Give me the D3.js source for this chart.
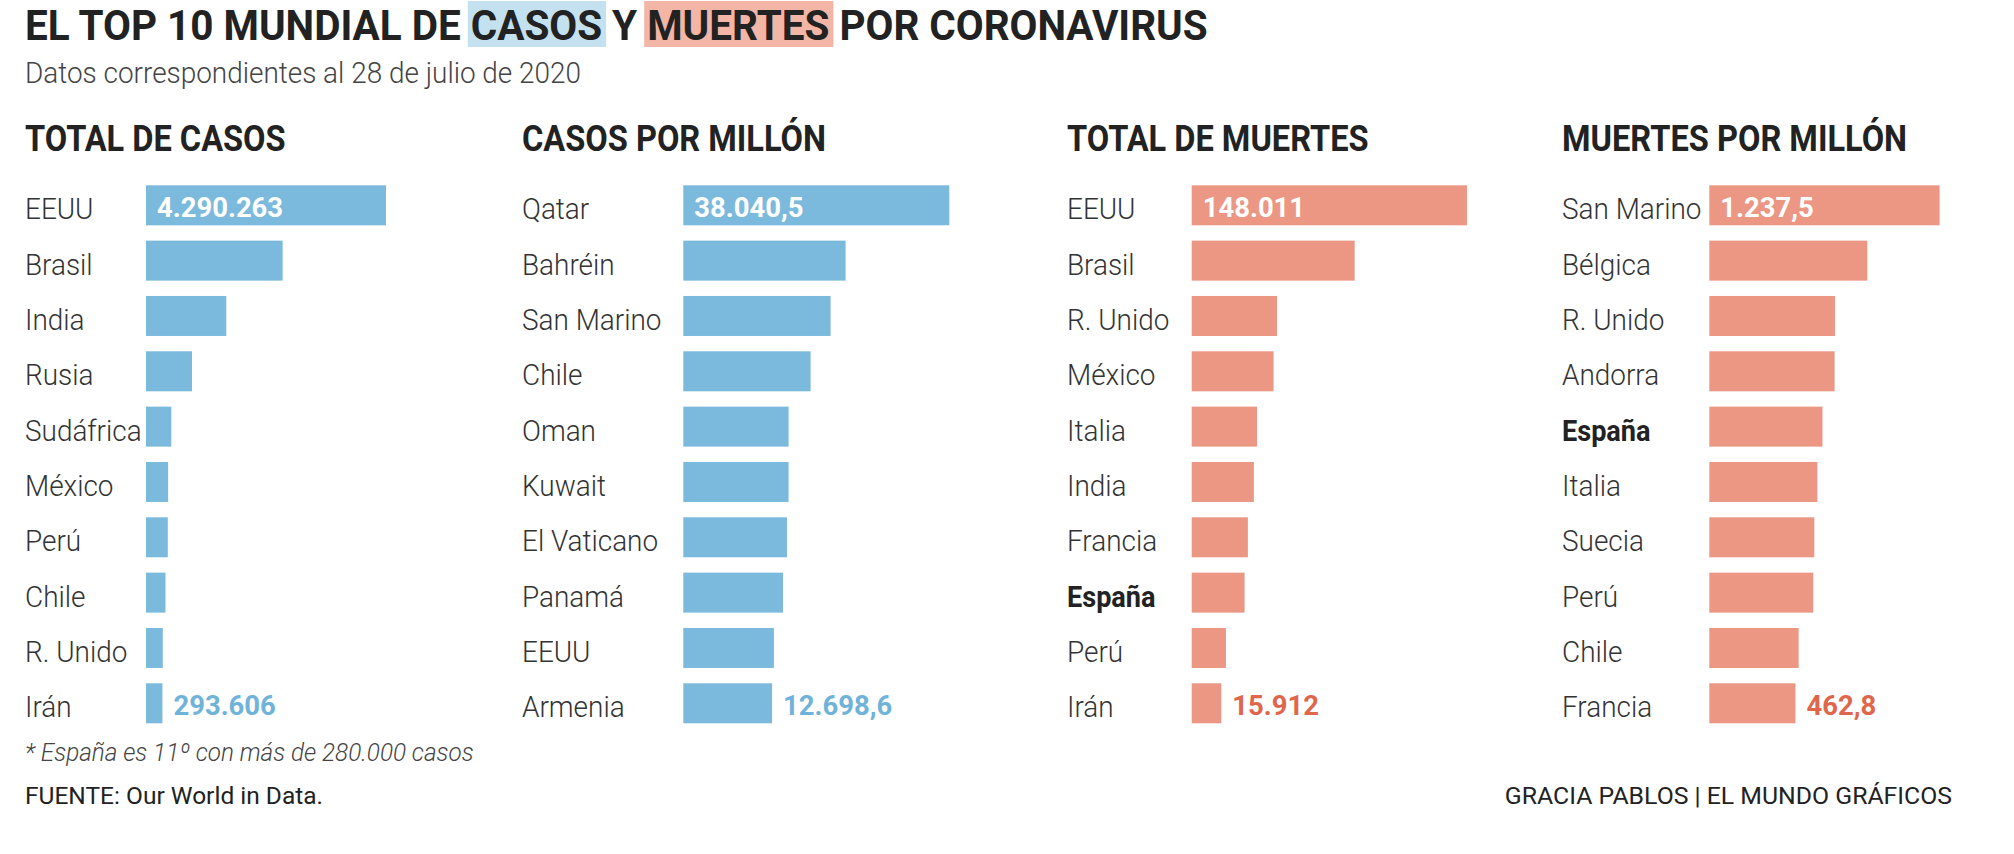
<!DOCTYPE html>
<html><head><meta charset="utf-8">
<script src="https://cdn.jsdelivr.net/npm/d3@7"></script>
<style>body{margin:0;background:#fff} svg{display:block}</style>
</head><body>
<svg id="c" width="2014" height="854"></svg>
<script>
// ---------- DATA ----------
const casosPaises   = ["EEUU","Brasil","India","Rusia","Sudáfrica","México","Perú","Chile","R. Unido","Irán"];
const casosValores  = [4290263, 2442375, 1435453, 822060, 452529, 395489, 389717, 347923, 300111, 293606];

const casosMillonPaises  = ["Qatar","Bahréin","San Marino","Chile","Oman","Kuwait","El Vaticano","Panamá","EEUU","Armenia"];
const casosMillonValores = [38040.5, 23210.0, 21064.0, 18204.0, 15060.0, 15058.0, 14829.0, 14257.0, 12962.0, 12698.6];

const muertesPaises  = ["EEUU","Brasil","R. Unido","México","Italia","India","Francia","España","Perú","Irán"];
const muertesValores = [148011, 87618, 45878, 44022, 35112, 33425, 30212, 28434, 18418, 15912];

const muertesMillonPaises  = ["San Marino","Bélgica","R. Unido","Andorra","España","Italia","Suecia","Perú","Chile","Francia"];
const muertesMillonValores = [1237.5, 849.0, 675.3, 673.4, 608.1, 580.8, 564.3, 558.6, 480.0, 462.8];

const destacado = "España";

const titulo    = "EL TOP 10 MUNDIAL DE CASOS Y MUERTES POR CORONAVIRUS";
const subtitulo = "Datos correspondientes al 28 de julio de 2020";
const nota      = "* España es 11º con más de 280.000 casos";
const fuente    = "FUENTE: Our World in Data.";
const credito   = "GRACIA PABLOS | EL MUNDO GRÁFICOS";

// ---------- STYLE / LAYOUT ----------
const BLUE = "#7bbadc", BLUE_TXT = "#6fb3d9", BLUE_HL = "#c4e1ef";
const RED = "#eb9784", RED_TXT = "#e0664b", RED_HL = "#f2b5a6";
const INK = "#222222", LABEL = "#333333";
const FONT = "Roboto, 'Open Sans', sans-serif";

const es = d3.formatLocale({decimal: ",", thousands: ".", grouping: [3], currency: ["", ""]});
const fInt = es.format(",d"), fDec = es.format(",.1f");

const panels = [
  {title: "TOTAL DE CASOS",   names: casosPaises,          values: casosValores,          labelX: 25,   barX: 146,   maxW: 240,   color: BLUE, txt: BLUE_TXT, fmt: fInt},
  {title: "CASOS POR MILLÓN", names: casosMillonPaises,    values: casosMillonValores,    labelX: 522,  barX: 683.3, maxW: 266,   color: BLUE, txt: BLUE_TXT, fmt: fDec},
  {title: "TOTAL DE MUERTES", names: muertesPaises,        values: muertesValores,        labelX: 1067, barX: 1191.7,maxW: 275.3, color: RED,  txt: RED_TXT,  fmt: fInt},
  {title: "MUERTES POR MILLÓN",names: muertesMillonPaises, values: muertesMillonValores,  labelX: 1562, barX: 1709.3,maxW: 230.3, color: RED,  txt: RED_TXT,  fmt: fDec}
];

const svg = d3.select("#c");

// title (measure to derive condensed factor)
const titleG = svg.append("g");
const titleT = titleG.append("text")
  .attr("font-family", FONT).attr("font-weight", 700).attr("font-size", 42)
  .attr("fill", INK).text(titulo);
const rawW = titleT.node().getComputedTextLength();
const CF = 1183 / rawW;   // condensed factor
titleT.attr("transform", `translate(25,40) scale(${CF},1)`);

// highlight boxes behind CASOS and MUERTES
function hlBox(word, color) {
  const idx = titulo.indexOf(word);
  const n = titleT.node();
  const x0 = 25 + n.getSubStringLength(0, idx) * CF;
  const w = n.getSubStringLength(idx, word.length) * CF;
  titleG.insert("rect", "text")
    .attr("x", x0 - 3).attr("y", 1).attr("width", w + 7).attr("height", 46)
    .attr("fill", color);
}
hlBox("CASOS", BLUE_HL);
hlBox("MUERTES", RED_HL);

function ctext(sel, x, y, str, size, weight, fill, extra, k) {
  const t = sel.append("text")
    .attr("transform", `translate(${x},${y}) scale(${CF * (k || 1)},1)`)
    .attr("font-family", FONT).attr("font-size", size).attr("font-weight", weight)
    .attr("fill", fill).text(str);
  if (extra) extra(t);
  return t;
}

ctext(svg, 25, 82.5, subtitulo, 29, 300, "#444");

// ---------- PANELS ----------
panels.forEach(p => {
  const g = svg.append("g");
  const y = d3.scaleBand().domain(p.names).range([185.3, 723.3]).paddingInner(0.277).paddingOuter(0);
  const x = d3.scaleLinear().domain([0, d3.max(p.values)]).range([0, p.maxW]);
  const rows = p.names.map((n, i) => ({name: n, value: p.values[i], i}));

  ctext(g, p.labelX, 151, p.title, 36, 700, INK, null, 0.94);

  g.selectAll("rect.bar").data(rows).join("rect")
    .attr("class", "bar")
    .attr("x", p.barX).attr("y", d => y(d.name))
    .attr("width", d => x(d.value)).attr("height", y.bandwidth())
    .attr("fill", p.color);

  rows.forEach(d => {
    const bold = d.name === destacado;
    ctext(g, p.labelX, y(d.name) + 34, d.name, 29, bold ? 700 : 300, bold ? INK : LABEL, null, bold ? 0.97 : 1);
  });

  const first = rows[0], last = rows[rows.length - 1];
  ctext(g, p.barX + 11, y(first.name) + 32, p.fmt(first.value), 28.5, 700, "#ffffff");
  ctext(g, p.barX + x(last.value) + 11, y(last.name) + 32, p.fmt(last.value), 28.5, 700, p.txt);
});

// ---------- NOTES ----------
ctext(svg, 25, 761, nota, 25.2, 300, "#444", t => t.attr("font-style", "italic"));
svg.append("text").attr("x", 25).attr("y", 804)
  .attr("font-family", FONT).attr("font-size", 24.5).attr("font-weight", 400)
  .attr("fill", INK).text(fuente);
svg.append("text").attr("x", 1952).attr("y", 803.5).attr("text-anchor", "end")
  .attr("font-family", FONT).attr("font-size", 24.8).attr("font-weight", 400)
  .attr("fill", INK).text(credito);
</script>
</body></html>
